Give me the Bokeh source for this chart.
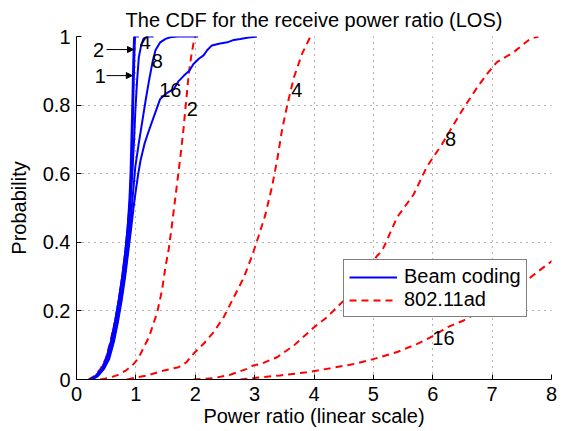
from bokeh.plotting import figure
from bokeh.models import (Range1d, FixedTicker, CustomJSTickFormatter, Legend, LegendItem,
                          Arrow, NormalHead, ColumnDataSource)
from bokeh.core.properties import value
from bokeh.embed import file_html
from bokeh.resources import INLINE

# ---------------- data ----------------
# Beam coding (blue, solid)
bc1_x = [0.22, 0.32, 0.42, 0.50, 0.58, 0.65, 0.71, 0.77, 0.82, 0.86, 0.89, 0.91, 0.925, 0.94, 0.95, 0.96, 0.97]
bc1_y = [0.0, 0.01, 0.03, 0.06, 0.11, 0.17, 0.23, 0.30, 0.37, 0.44, 0.52, 0.60, 0.70, 0.80, 0.88, 0.95, 1.0]
bc2_x = [0.22, 0.32, 0.42, 0.50, 0.58, 0.65, 0.71, 0.77, 0.82, 0.86, 0.90, 0.925, 0.94, 0.955, 0.965, 0.975, 0.985, 1.05]
bc2_y = [0.0, 0.01, 0.03, 0.06, 0.11, 0.17, 0.23, 0.30, 0.37, 0.44, 0.52, 0.60, 0.70, 0.80, 0.88, 0.95, 1.0, 1.0]
bc4_x = [0.24, 0.34, 0.44, 0.52, 0.60, 0.67, 0.73, 0.79, 0.84, 0.88, 0.91, 0.94, 0.97, 0.99, 1.02, 1.05, 1.09, 1.13, 1.20, 1.30]
bc4_y = [0.0, 0.01, 0.03, 0.06, 0.11, 0.17, 0.23, 0.30, 0.37, 0.44, 0.52, 0.60, 0.70, 0.78, 0.87, 0.94, 0.975, 0.994, 1.0, 1.0]
bc8_x = [0.25, 0.35, 0.45, 0.54, 0.62, 0.69, 0.75, 0.81, 0.86, 0.90, 0.94, 0.99, 1.05, 1.11, 1.17, 1.22, 1.28, 1.33, 1.41, 1.50, 1.58, 1.70, 2.05]
bc8_y = [0.0, 0.01, 0.03, 0.06, 0.11, 0.17, 0.23, 0.30, 0.37, 0.44, 0.52, 0.62, 0.69, 0.755, 0.82, 0.87, 0.925, 0.96, 0.983, 0.993, 0.998, 1.0, 1.0]
bc16_x = [0.26, 0.36, 0.46, 0.55, 0.63, 0.70, 0.76, 0.82, 0.87, 0.92, 0.96, 0.99, 1.04, 1.08, 1.15, 1.22, 1.31, 1.41,
          1.52, 1.64, 1.72, 1.81, 1.90, 1.97, 2.06, 2.14, 2.20, 2.28, 2.40, 2.54, 2.65, 2.76, 2.90, 3.04]
bc16_y = [0.0, 0.01, 0.03, 0.06, 0.11, 0.17, 0.23, 0.30, 0.37, 0.44, 0.50, 0.54, 0.60, 0.64, 0.69, 0.726, 0.77, 0.818,
          0.835, 0.847, 0.87, 0.886, 0.90, 0.92, 0.935, 0.945, 0.96, 0.974, 0.979, 0.983, 0.99, 0.993, 0.997, 1.0]

# 802.11ad (red, dashed)
ad1_x = [0.20, 0.30, 0.40, 0.49, 0.57, 0.65, 0.72, 0.78, 0.83, 0.87, 0.90, 0.92, 0.935, 0.95, 0.96, 0.97, 0.98]
ad1_y = [0.0, 0.01, 0.03, 0.06, 0.11, 0.17, 0.23, 0.30, 0.37, 0.44, 0.52, 0.60, 0.70, 0.80, 0.88, 0.95, 1.0]
ad2_x = [0.40, 0.55, 0.68, 0.82, 0.94, 1.01, 1.08, 1.15, 1.22, 1.29, 1.36, 1.44, 1.50, 1.55, 1.60, 1.65, 1.70,
         1.75, 1.80, 1.84, 1.89, 1.93, 1.96, 1.98, 2.00]
ad2_y = [0.0, 0.005, 0.012, 0.025, 0.041, 0.055, 0.075, 0.10, 0.123, 0.16, 0.196, 0.26, 0.33, 0.376, 0.44, 0.51, 0.58,
         0.65, 0.726, 0.80, 0.89, 0.94, 0.97, 0.99, 1.0]
ad4_x = [0.85, 1.19, 1.47, 1.72, 1.85, 1.97, 2.14, 2.31, 2.48, 2.65, 2.82, 2.96, 3.07, 3.18, 3.29, 3.38, 3.46,
         3.55, 3.66, 3.80, 3.94]
ad4_y = [0.0, 0.012, 0.026, 0.036, 0.05, 0.075, 0.104, 0.138, 0.182, 0.24, 0.298, 0.362, 0.42, 0.48, 0.56, 0.64, 0.726,
         0.80, 0.88, 0.95, 1.0]
ad8_x = [1.97, 2.31, 2.59, 2.87, 2.98, 3.10, 3.38, 3.66, 4.0, 4.22, 4.50, 4.78, 5.06, 5.15, 5.40, 5.68, 5.90, 6.16,
         6.46, 6.75, 6.91, 7.08, 7.36, 7.64, 7.78]
ad8_y = [0.0, 0.004, 0.014, 0.031, 0.041, 0.045, 0.065, 0.099, 0.152, 0.182, 0.23, 0.289, 0.36, 0.376, 0.473, 0.54,
         0.62, 0.687, 0.775, 0.852, 0.89, 0.925, 0.954, 0.993, 1.0]
ad16_x = [2.76, 3.43, 3.88, 4.28, 4.67, 4.95, 5.40, 5.74, 6.02, 6.24, 6.52, 7.0, 7.4, 7.76, 7.98, 8.2]
ad16_y = [0.0, 0.012, 0.021, 0.033, 0.045, 0.057, 0.08, 0.104, 0.128, 0.152, 0.172, 0.22, 0.265, 0.313, 0.342, 0.37]

# curve annotations
lab_text = ["4", "8", "16", "2", "4", "8", "16"]
lab_x = [1.16, 1.36, 1.58, 1.95, 3.71, 6.30, 6.18]
lab_y = [0.983, 0.93, 0.843, 0.789, 0.843, 0.70, 0.122]
arrow_text = ["2", "1"]
arrow_tx = [0.37, 0.40]
arrow_x0 = [0.505, 0.505]
arrow_x1 = [0.96, 0.94]
arrow_y = [0.962, 0.886]

x_ticks = [0, 1, 2, 3, 4, 5, 6, 7, 8]
y_ticks = [0, 0.2, 0.4, 0.6, 0.8, 1]

FONT = "Liberation Sans"
BLUE = "#0000ff"
RED = "#ff0000"

p = figure(width=566, height=430, x_range=Range1d(0, 8), y_range=Range1d(0, 1),
           output_backend="svg", toolbar_location=None,
           title="The CDF for the receive power ratio (LOS)",
           min_border_left=76, min_border_right=15, min_border_top=36, min_border_bottom=51)
p.background_fill_color = "white"
p.border_fill_color = "white"
p.outline_line_color = None

p.title.text_font = FONT
p.title.text_font_size = "20px"
p.title.text_font_style = "normal"
p.title.text_color = "black"
p.title.align = "center"
p.title.standoff = 12

for ax in (p.xaxis[0], p.yaxis[0]):
    ax.axis_line_color = "black"
    ax.major_tick_in = 5
    ax.major_tick_out = 0
    ax.minor_tick_line_color = None
    ax.major_label_text_font = FONT
    ax.major_label_text_font_size = "20px"
    ax.major_label_text_color = "black"
    ax.axis_label_text_font = FONT
    ax.axis_label_text_font_size = "20px"
    ax.axis_label_text_font_style = "normal"
    ax.axis_label_text_color = "black"
    ax.formatter = CustomJSTickFormatter(code="return tick.toString();")

p.xaxis.ticker = FixedTicker(ticks=x_ticks)
p.yaxis.ticker = FixedTicker(ticks=y_ticks)
p.xaxis.axis_label = "Power ratio (linear scale)"
p.yaxis.axis_label = "Probability"
p.xaxis.major_label_standoff = 7
p.xaxis.axis_label_standoff = 1
p.yaxis.major_label_standoff = 6
p.yaxis.axis_label_standoff = 10

p.grid.grid_line_color = "#666666"
p.grid.grid_line_dash = "1 5"
p.grid.grid_line_width = 1
p.xgrid.ticker = FixedTicker(ticks=x_ticks)
p.ygrid.ticker = FixedTicker(ticks=y_ticks)

DASH = "7 5"
r_ad = None
for xs, ys in [(ad1_x, ad1_y), (ad2_x, ad2_y), (ad4_x, ad4_y), (ad8_x, ad8_y), (ad16_x, ad16_y)]:
    r = p.line(xs, ys, line_color=RED, line_width=2, line_dash=DASH)
    if r_ad is None:
        r_ad = r
r_bc = None
for xs, ys in [(bc1_x, bc1_y), (bc2_x, bc2_y), (bc4_x, bc4_y), (bc8_x, bc8_y), (bc16_x, bc16_y)]:
    r = p.line(xs, ys, line_color=BLUE, line_width=2)
    if r_bc is None:
        r_bc = r

p.text(x=lab_x, y=lab_y, text=lab_text, text_font=value(FONT), text_font_size=value("20px"),
       text_align="center", text_baseline="middle", text_color="black")
p.text(x=arrow_tx, y=arrow_y, text=arrow_text, text_font=value(FONT), text_font_size=value("20px"),
       text_align="center", text_baseline="middle", text_color="black")

asrc = ColumnDataSource(dict(x0=arrow_x0, x1=arrow_x1, y=arrow_y))
p.add_layout(Arrow(end=NormalHead(size=6, fill_color="black", line_color="black"),
                   x_start="x0", y_start="y", x_end="x1", y_end="y", source=asrc,
                   line_color="black", line_width=1))

legend = Legend(items=[LegendItem(label="Beam coding", renderers=[r_bc]),
                       LegendItem(label="802.11ad", renderers=[r_ad])],
                location=(267, 62))
legend.label_text_font = FONT
legend.label_text_font_size = "20px"
legend.label_text_color = "black"
legend.glyph_width = 48
legend.glyph_height = 22
legend.label_height = 22
legend.label_standoff = 7
legend.padding = 5
legend.spacing = 0
legend.margin = 0
legend.border_line_color = "black"
legend.border_line_width = 1
legend.background_fill_color = "white"
legend.background_fill_alpha = 1
p.add_layout(legend)

open("out.html", "w").write(file_html(p, INLINE))
